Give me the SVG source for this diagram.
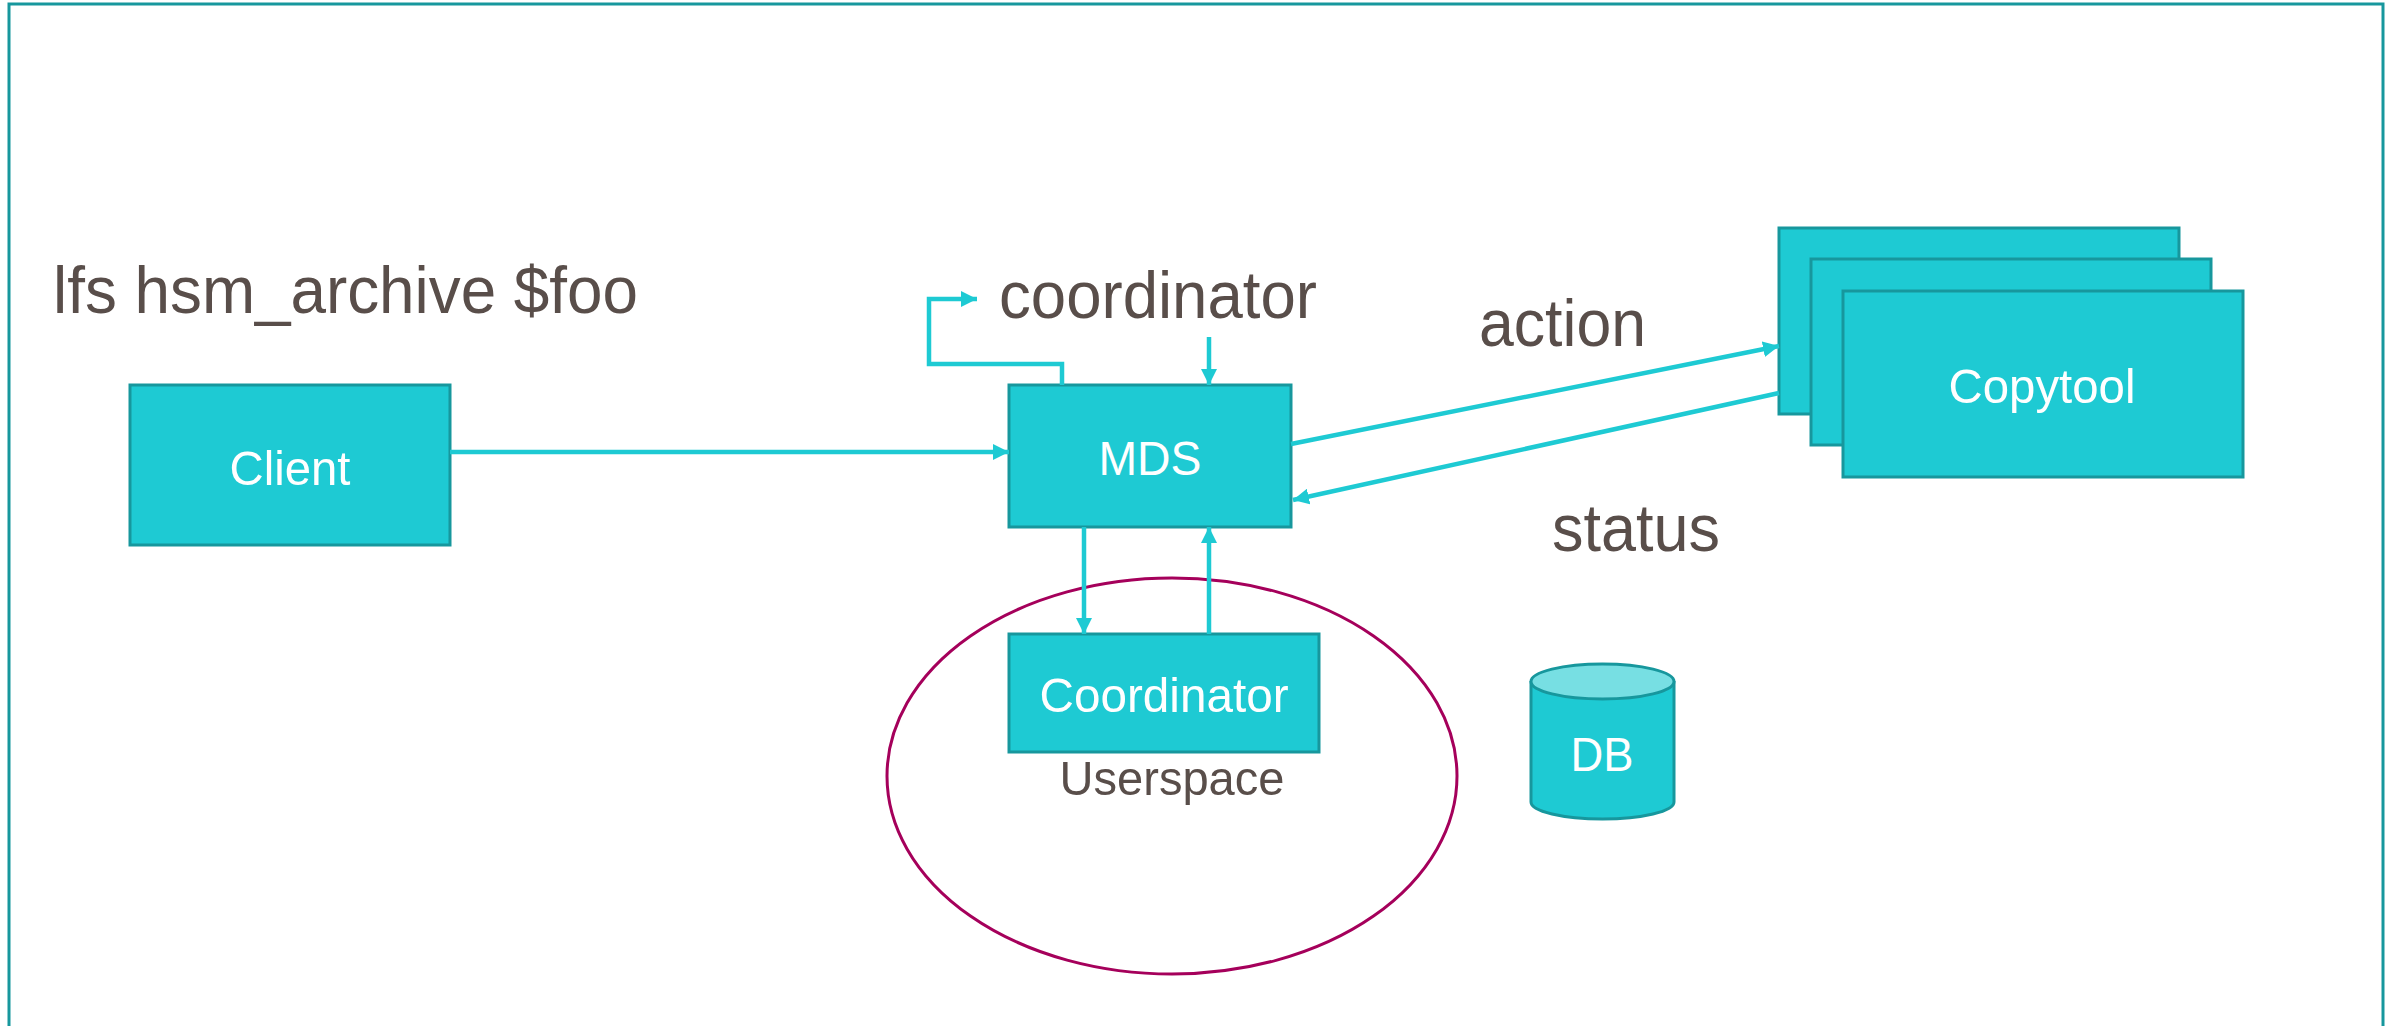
<svg xmlns="http://www.w3.org/2000/svg" width="2394" height="1026" viewBox="0 0 2394 1026">
<style>
.box{fill:#1ecad3;stroke:#17979d;stroke-width:3}
.lbl{font-family:"Liberation Sans",Arial,sans-serif;fill:#ffffff;font-size:49px;text-anchor:middle}
.big{font-family:"Liberation Sans",Arial,sans-serif;fill:#594e4a;font-size:66px}
.mid{font-family:"Liberation Sans",Arial,sans-serif;fill:#594e4a;font-size:49px;text-anchor:middle}
.con{fill:none;stroke:#1ecad3;stroke-width:4.5;marker-end:url(#ah)}
</style>
<defs>
<marker id="ah" markerUnits="userSpaceOnUse" markerWidth="18" markerHeight="16" refX="16" refY="8" orient="auto">
<path d="M0,0 L16,8 L0,16 Z" fill="#1ecad3"/>
</marker>
</defs>
<rect x="0" y="0" width="2394" height="1026" fill="#ffffff"/>
<rect id="frame" x="9" y="4" width="2374" height="1040" fill="none" stroke="#17979d" stroke-width="3"/>
<g id="title"><text class="big" x="53" y="313" textLength="585" lengthAdjust="spacingAndGlyphs">lfs hsm_archive $foo</text></g>
<g id="label-coordinator"><text class="big" x="999" y="318" textLength="318" lengthAdjust="spacingAndGlyphs">coordinator</text></g>
<g id="label-action"><text class="big" x="1479" y="346" textLength="167" lengthAdjust="spacingAndGlyphs">action</text></g>
<g id="label-status"><text class="big" x="1552" y="551" textLength="168" lengthAdjust="spacingAndGlyphs">status</text></g>
<g id="userspace">
<ellipse cx="1172" cy="776" rx="285" ry="198" fill="none" stroke="#a5005b" stroke-width="3"/>
<text class="mid" x="1172" y="795" textLength="225" lengthAdjust="spacingAndGlyphs">Userspace</text>
</g>
<g id="client">
<rect class="box" x="130" y="385" width="320" height="160"/>
<text class="lbl" x="290" y="485" textLength="121" lengthAdjust="spacingAndGlyphs">Client</text>
</g>
<g id="mds">
<rect class="box" x="1009" y="385" width="282" height="142"/>
<text class="lbl" x="1150" y="475" textLength="103" lengthAdjust="spacingAndGlyphs">MDS</text>
</g>
<g id="coordinator">
<rect class="box" x="1009" y="634" width="310" height="118"/>
<text class="lbl" x="1164" y="712" textLength="249" lengthAdjust="spacingAndGlyphs">Coordinator</text>
</g>
<g id="copytool">
<rect class="box" x="1779" y="228" width="400" height="186"/>
<rect class="box" x="1811" y="259" width="400" height="186"/>
<rect class="box" x="1843" y="291" width="400" height="186"/>
<text class="lbl" x="2042" y="403" textLength="187" lengthAdjust="spacingAndGlyphs">Copytool</text>
</g>
<g id="db">
<path d="M1531,681 V802 A71.5,17 0 0 0 1674,802 V681" fill="#1ecad3" stroke="#17979d" stroke-width="3"/>
<ellipse cx="1602.5" cy="681.5" rx="71.5" ry="17.5" fill="#77dfe3" stroke="#17979d" stroke-width="3"/>
<text class="lbl" x="1602" y="771" textLength="63" lengthAdjust="spacingAndGlyphs">DB</text>
</g>
<g id="connectors">
<path class="con" d="M450,452 H1009"/>
<path class="con" d="M1062,385 V364 H929 V299 H977"/>
<path class="con" d="M1209,337 V385"/>
<path class="con" d="M1291,444 L1779,346"/>
<path class="con" d="M1779,393 L1293,500"/>
<path class="con" d="M1084,527 V634"/>
<path class="con" d="M1209,634 V527"/>
</g>
</svg>
